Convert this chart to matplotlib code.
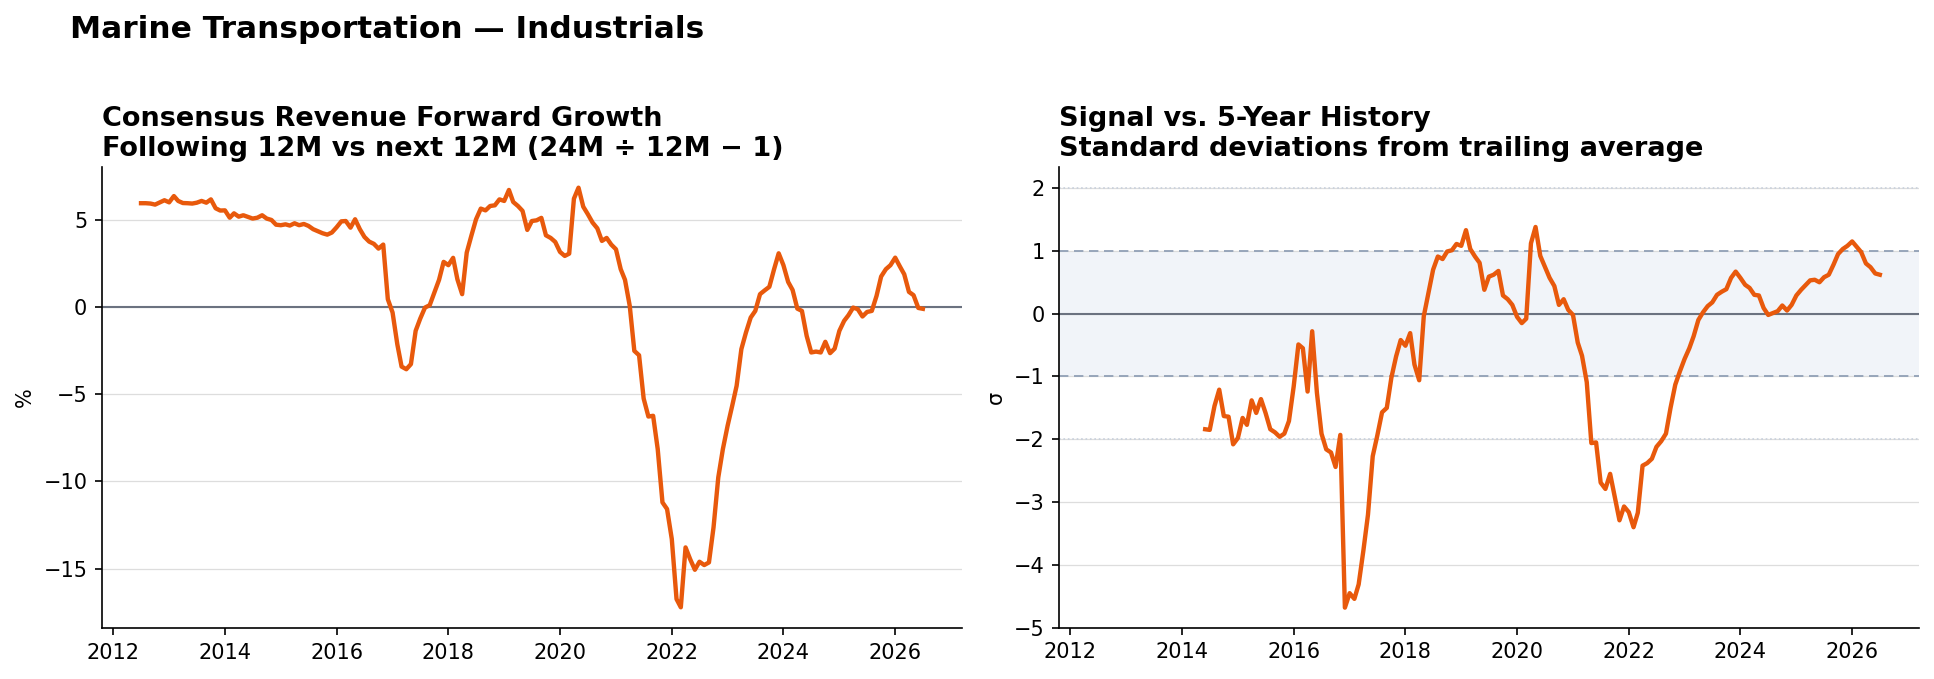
import pandas as pd
import matplotlib
matplotlib.use("Agg")
import matplotlib.pyplot as plt
import matplotlib.dates as mdates

# monthly series, Jul 2012 .. Jul 2026
growth = [5.94, 5.94, 5.92, 5.86, 5.99, 6.11, 5.99, 6.35, 6.07, 5.95,
          5.94, 5.92, 5.97, 6.07, 5.97, 6.16, 5.65, 5.52, 5.53, 5.11,
          5.36, 5.17, 5.25, 5.15, 5.06, 5.11, 5.25, 5.06, 4.98, 4.71,
          4.68, 4.73, 4.66, 4.79, 4.68, 4.75, 4.64, 4.45, 4.33, 4.22,
          4.14, 4.26, 4.56, 4.90, 4.92, 4.54, 5.02, 4.45, 4.01, 3.74,
          3.61, 3.34, 3.57, 0.44, -0.32, -2.14, -3.42, -3.57, -3.28, -1.37,
          -0.67, -0.04, 0.10, 0.82, 1.55, 2.58, 2.39, 2.81, 1.58, 0.73,
          3.11, 4.10, 5.02, 5.63, 5.53, 5.78, 5.82, 6.16, 6.07, 6.70,
          6.01, 5.78, 5.50, 4.41, 4.92, 4.96, 5.10, 4.10, 3.95, 3.72,
          3.15, 2.92, 3.05, 6.20, 6.83, 5.74, 5.31, 4.83, 4.50, 3.78,
          3.95, 3.57, 3.30, 2.16, 1.55, 0.06, -2.52, -2.77, -5.25, -6.28,
          -6.24, -8.15, -11.20, -11.58, -13.30, -16.74, -17.21, -13.78, -14.45, -15.06,
          -14.60, -14.79, -14.64, -12.63, -9.77, -8.15, -6.81, -5.63, -4.52, -2.42,
          -1.47, -0.61, -0.23, 0.73, 0.95, 1.15, 2.16, 3.07, 2.39, 1.43,
          0.97, -0.10, -0.23, -1.66, -2.61, -2.56, -2.61, -2.00, -2.65, -2.39,
          -1.37, -0.80, -0.48, -0.04, -0.13, -0.55, -0.29, -0.23, 0.63, 1.74,
          2.16, 2.39, 2.82, 2.31, 1.87, 0.86, 0.67, -0.06, -0.11]

# z-score vs trailing 5y, Jun 2014 .. Jul 2026
zscore = [-1.84, -1.85, -1.47, -1.21, -1.63, -1.64, -2.08, -1.98, -1.66, -1.77,
          -1.38, -1.58, -1.36, -1.58, -1.84, -1.89, -1.96, -1.91, -1.71, -1.16,
          -0.49, -0.55, -1.24, -0.28, -1.26, -1.91, -2.16, -2.21, -2.44, -1.93,
          -4.68, -4.45, -4.54, -4.31, -3.77, -3.20, -2.27, -1.94, -1.57, -1.50,
          -1.02, -0.68, -0.42, -0.51, -0.31, -0.81, -1.06, -0.04, 0.34, 0.70,
          0.91, 0.87, 0.99, 1.01, 1.11, 1.08, 1.33, 1.03, 0.91, 0.81,
          0.38, 0.59, 0.62, 0.68, 0.29, 0.23, 0.14, -0.05, -0.15, -0.08,
          1.12, 1.38, 0.92, 0.75, 0.57, 0.44, 0.14, 0.23, 0.06, -0.02,
          -0.46, -0.67, -1.09, -2.06, -2.05, -2.69, -2.79, -2.55, -2.91, -3.29,
          -3.07, -3.16, -3.40, -3.17, -2.42, -2.38, -2.31, -2.12, -2.03, -1.91,
          -1.50, -1.13, -0.92, -0.72, -0.55, -0.36, -0.10, 0.02, 0.12, 0.18,
          0.30, 0.35, 0.39, 0.57, 0.67, 0.57, 0.46, 0.41, 0.30, 0.29,
          0.09, -0.02, 0.01, 0.04, 0.13, 0.05, 0.14, 0.29, 0.38, 0.45,
          0.53, 0.54, 0.50, 0.58, 0.62, 0.78, 0.95, 1.03, 1.08, 1.15,
          1.06, 0.98, 0.80, 0.74, 0.64, 0.62]

dates = pd.date_range("2012-07-01", periods=len(growth), freq="MS")
z_dates = pd.date_range("2014-06-01", periods=len(zscore), freq="MS")

orange = "#e8590c"
slate = "#6b7280"

fig = plt.figure(figsize=(1934 / 150, 679 / 150), dpi=150)
ax1 = fig.add_axes([0.0527, 0.0747, 0.4447, 0.6798])
ax2 = fig.add_axes([0.5476, 0.0755, 0.4446, 0.679], sharex=ax1)

fig.text(0.036, 0.978, "Marine Transportation \u2014 Industrials",
         fontsize=15, fontweight="bold", va="top", ha="left")

# left: forward growth
ax1.axhline(0, color=slate, lw=1.0, zorder=1)
ax1.plot(dates, growth, color=orange, lw=2.1, zorder=3)
ax1.set_title("Consensus Revenue Forward Growth\n"
              "Following 12M vs next 12M (24M \u00f7 12M \u2212 1)",
              loc="left", fontsize=13, fontweight="bold", pad=5)
ax1.set_ylabel("%", fontsize=10)
ax1.grid(axis="y", color="#dddddd", lw=0.6)

# right: z-score
ax2.axhspan(-1, 1, color="#dde5f0", alpha=0.4, lw=0, zorder=0)
ax2.axhline(0, color=slate, lw=1.0, zorder=1)
for lvl in (1, -1):
    ax2.axhline(lvl, color="#94a3b8", lw=0.9, ls=(0, (5, 3)), zorder=1)
for lvl in (2, -2):
    ax2.axhline(lvl, color="#c8d0dc", lw=0.8, ls=":", zorder=1)
ax2.plot(z_dates, zscore, color=orange, lw=2.1, zorder=3)
ax2.set_title("Signal vs. 5-Year History\n"
              "Standard deviations from trailing average",
              loc="left", fontsize=13, fontweight="bold", pad=5)
ax2.set_ylabel("\u03c3", fontsize=10)
ax2.set_ylim(-5, 2.34)
ax2.set_yticks(range(-5, 3))
ax2.grid(axis="y", color="#dddddd", lw=0.6)

for ax in (ax1, ax2):
    ax.set_axisbelow(True)
    ax.spines["top"].set_visible(False)
    ax.spines["right"].set_visible(False)
    ax.xaxis.set_major_locator(mdates.YearLocator(2))
    ax.xaxis.set_major_formatter(mdates.DateFormatter("%Y"))
    ax.tick_params(labelsize=10)

fig.savefig("out.png", dpi=150)
